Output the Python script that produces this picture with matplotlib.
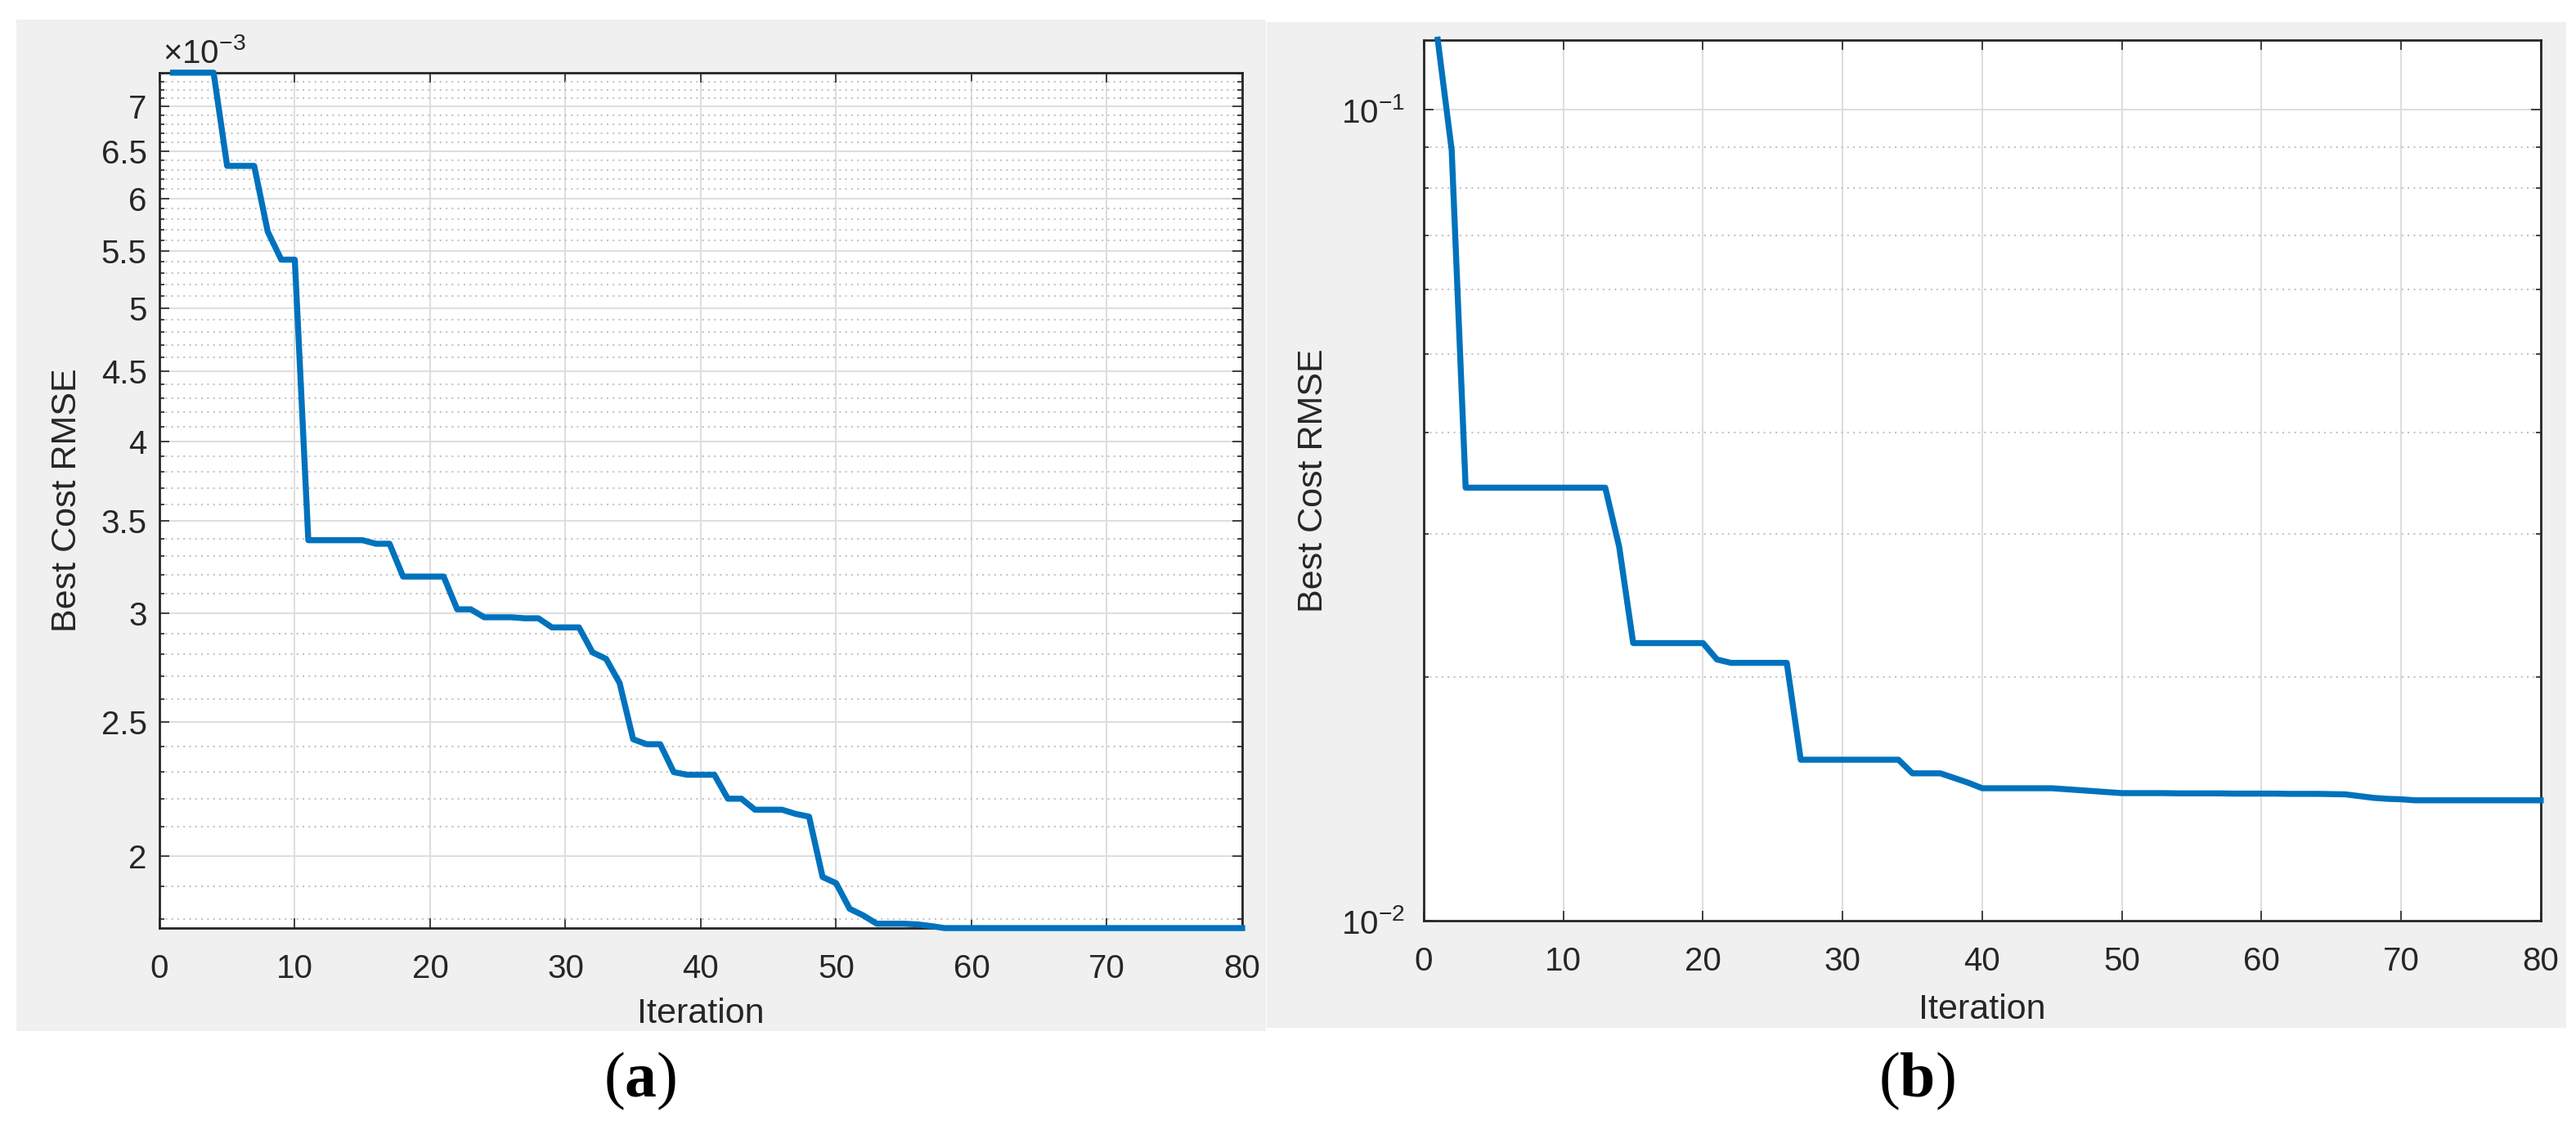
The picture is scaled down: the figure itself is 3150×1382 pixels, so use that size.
import numpy as np
import matplotlib
matplotlib.use('Agg')
import matplotlib.pyplot as plt
from matplotlib.patches import Rectangle
from matplotlib.ticker import FixedLocator, FixedFormatter, NullFormatter, NullLocator

# iteration number (1..80)
iterations = list(range(1, 81))

# (a) best cost RMSE per iteration
cost_a = [7.41e-3, 7.41e-3, 7.41e-3, 7.41e-3, 6.34e-3, 6.34e-3, 6.34e-3, 5.68e-3, 5.42e-3, 5.42e-3,
          3.39e-3, 3.39e-3, 3.39e-3, 3.39e-3, 3.39e-3, 3.37e-3, 3.37e-3, 3.19e-3, 3.19e-3, 3.19e-3,
          3.19e-3, 3.02e-3, 3.02e-3, 2.98e-3, 2.98e-3, 2.98e-3, 2.975e-3, 2.975e-3, 2.93e-3, 2.93e-3,
          2.93e-3, 2.81e-3, 2.78e-3, 2.67e-3, 2.43e-3, 2.41e-3, 2.41e-3, 2.30e-3, 2.29e-3, 2.29e-3,
          2.29e-3, 2.20e-3, 2.20e-3, 2.16e-3, 2.16e-3, 2.16e-3, 2.145e-3, 2.135e-3, 1.93e-3, 1.91e-3,
          1.83e-3, 1.81e-3, 1.785e-3, 1.785e-3, 1.785e-3, 1.783e-3, 1.778e-3, 1.772e-3, 1.772e-3, 1.772e-3,
          1.772e-3, 1.772e-3, 1.772e-3, 1.772e-3, 1.772e-3, 1.772e-3, 1.772e-3, 1.772e-3, 1.772e-3, 1.772e-3,
          1.772e-3, 1.772e-3, 1.772e-3, 1.772e-3, 1.772e-3, 1.772e-3, 1.772e-3, 1.772e-3, 1.772e-3, 1.772e-3]

# (b) best cost RMSE per iteration
cost_b = [0.122, 0.0892, 0.0342, 0.0342, 0.0342, 0.0342, 0.0342, 0.0342, 0.0342, 0.0342,
          0.0342, 0.0342, 0.0342, 0.0289, 0.0220, 0.0220, 0.0220, 0.0220, 0.0220, 0.0220,
          0.0210, 0.0208, 0.0208, 0.0208, 0.0208, 0.0208, 0.0158, 0.0158, 0.0158, 0.0158,
          0.0158, 0.0158, 0.0158, 0.0158, 0.0152, 0.0152, 0.0152, 0.0150, 0.0148, 0.01457,
          0.01457, 0.01457, 0.01457, 0.01457, 0.01457, 0.01453, 0.01449, 0.01445, 0.01441, 0.01437,
          0.01437, 0.01437, 0.01437, 0.01436, 0.01436, 0.01436, 0.01436, 0.01435, 0.01435, 0.01435,
          0.01435, 0.01434, 0.01434, 0.01434, 0.01433, 0.01432, 0.01425, 0.01418, 0.01414, 0.01412,
          0.01408, 0.01408, 0.01408, 0.01408, 0.01408, 0.01408, 0.01408, 0.01408, 0.01408, 0.01408]

x_ticks = [0, 10, 20, 30, 40, 50, 60, 70, 80]
a_yticks = [2.0e-3, 2.5e-3, 3.0e-3, 3.5e-3, 4.0e-3, 4.5e-3, 5.0e-3, 5.5e-3, 6.0e-3, 6.5e-3, 7.0e-3]
a_yticklabels = ['2', '2.5', '3', '3.5', '4', '4.5', '5', '5.5', '6', '6.5', '7']
b_yticks = [1e-2, 1e-1]
b_yticklabels = [r'$\mathdefault{10^{-2}}$', r'$\mathdefault{10^{-1}}$']
b_yminor = [0.02, 0.03, 0.04, 0.05, 0.06, 0.07, 0.08, 0.09]

plt.rcParams['font.family'] = ['Liberation Sans', 'DejaVu Sans']
plt.rcParams['mathtext.fontset'] = 'custom'
plt.rcParams['mathtext.rm'] = 'Liberation Sans'
plt.rcParams['mathtext.bf'] = 'Liberation Serif:bold'

dark = '#262626'
blue = '#0072BD'
panel = '#F0F0F0'

fig = plt.figure(figsize=(31.5, 13.82), dpi=100, facecolor='white')

# grey figure backgrounds behind each MATLAB panel
fig.patches.append(Rectangle((0.0063, 0.0876), 0.4852, 0.895, transform=fig.transFigure,
                             facecolor=panel, edgecolor='none', zorder=-10))
fig.patches.append(Rectangle((0.4918, 0.0904), 0.5044, 0.890, transform=fig.transFigure,
                             facecolor=panel, edgecolor='none', zorder=-10))

ax1 = fig.add_axes([0.0619, 0.1787, 0.4203, 0.757])
ax2 = fig.add_axes([0.5527, 0.1851, 0.4336, 0.7798])


def style_axes(ax, ypad):
    ax.set_facecolor('white')
    for s in ax.spines.values():
        s.set_color(dark)
        s.set_linewidth(2)
    ax.set_xlim(0, 80)
    ax.xaxis.set_major_locator(FixedLocator(x_ticks))
    ax.xaxis.set_minor_locator(NullLocator())
    ax.tick_params(which='both', direction='in', top=True, right=True, colors=dark,
                   labelsize=29, width=1.2)
    ax.tick_params(which='major', length=8.6)
    ax.tick_params(which='minor', length=4.3)
    ax.tick_params(axis='x', pad=22)
    ax.tick_params(axis='y', pad=ypad)
    ax.grid(which='major', color='#DEDEDE', linewidth=1.5, linestyle='-')
    ax.yaxis.grid(which='minor', color='#C4C4C4', linewidth=1.5, linestyle=(0, (1, 2.5)))
    ax.set_axisbelow(True)
    ax.set_xlabel('Iteration', fontsize=31, color=dark, va='center')
    ax.set_ylabel('Best Cost RMSE', fontsize=31, color=dark, va='center')


# (a)
ax1.plot(iterations, cost_a, color=blue, linewidth=5.3, clip_on=False, zorder=3)
ax1.set_yscale('log')
ax1.set_ylim(min(cost_a), max(cost_a))
ax1.yaxis.set_major_locator(FixedLocator(a_yticks))
ax1.yaxis.set_major_formatter(FixedFormatter(a_yticklabels))
ax1.yaxis.set_minor_locator(FixedLocator(np.round(np.arange(1.8, 7.45, 0.1), 1) * 1e-3))
ax1.yaxis.set_minor_formatter(NullFormatter())
style_axes(ax1, 11)
ax1.xaxis.set_label_coords(0.5, -0.1004)
ax1.yaxis.set_label_coords(-0.0853, 0.5)
ax1.text(0.003, 1.011, r'$\mathdefault{×10^{-3}}$', transform=ax1.transAxes,
         ha='left', va='baseline', fontsize=29, color=dark)

# (b)
ax2.plot(iterations, cost_b, color=blue, linewidth=5.3, clip_on=False, zorder=3)
ax2.set_yscale('log')
ax2.set_ylim(1e-2, max(cost_b))
ax2.yaxis.set_major_locator(FixedLocator(b_yticks))
ax2.yaxis.set_major_formatter(FixedFormatter(b_yticklabels))
ax2.yaxis.set_minor_locator(FixedLocator(b_yminor))
ax2.yaxis.set_minor_formatter(NullFormatter())
style_axes(ax2, 17)
ax2.xaxis.set_label_coords(0.5, -0.101)
ax2.yaxis.set_label_coords(-0.0988, 0.5)

fig.text(0.2486, 0.0434, r'($\mathbf{a}$)', ha='center', va='center',
         family='Liberation Serif', fontsize=56, color='black')
fig.text(0.7441, 0.0434, r'($\mathbf{b}$)', ha='center', va='center',
         family='Liberation Serif', fontsize=56, color='black')

fig.savefig('out.png', dpi=100, facecolor='white')
